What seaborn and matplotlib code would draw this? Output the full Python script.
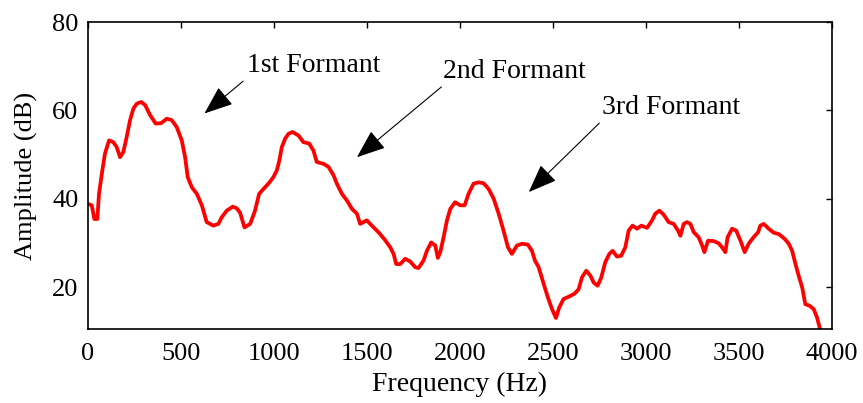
import numpy as np
import pandas as pd
import matplotlib
matplotlib.use("Agg")
import matplotlib.pyplot as plt
import seaborn as sns

# Smoothed spectrum envelope: frequency (Hz) and amplitude (dB)
freq_hz = [2, 20, 34, 50, 59, 74, 91, 113, 136, 154, 172, 190, 208, 226, 244, 262,
           285, 307, 334, 364, 393, 423, 450, 477, 504, 522, 536, 558, 585, 612,
           638, 674, 701, 719, 746, 778, 800, 818, 841, 872, 898, 920, 943, 970,
           997, 1015, 1029, 1042, 1060, 1078, 1099, 1132, 1158, 1189, 1212, 1230,
           1266, 1293, 1320, 1338, 1365, 1392, 1419, 1446, 1463, 1499, 1526, 1562,
           1596, 1625, 1643, 1657, 1679, 1705, 1732, 1759, 1777, 1804, 1822, 1845,
           1867, 1881, 1894, 1912, 1930, 1948, 1974, 2001, 2025, 2046, 2073, 2100,
           2127, 2154, 2181, 2208, 2234, 2258, 2279, 2306, 2333, 2365, 2387, 2403,
           2423, 2450, 2473, 2495, 2516, 2534, 2557, 2584, 2616, 2638, 2656, 2679,
           2701, 2719, 2740, 2760, 2781, 2803, 2821, 2844, 2867, 2889, 2907, 2928,
           2952, 2975, 3006, 3033, 3050, 3072, 3095, 3122, 3149, 3172, 3185, 3203,
           3221, 3239, 3257, 3283, 3302, 3314, 3334, 3364, 3391, 3409, 3427, 3439,
           3463, 3485, 3508, 3531, 3552, 3579, 3603, 3615, 3633, 3660, 3687, 3714,
           3746, 3768, 3786, 3804, 3821, 3840, 3857, 3879, 3902, 3920, 3934, 3945]
amp_db = [38.8, 38.5, 35.4, 35.4, 41.1, 45.6, 50.2, 53.2, 52.8, 51.7, 49.4, 50.6,
          54.0, 57.8, 60.4, 61.5, 61.9, 61.2, 58.9, 57.0, 57.1, 58.1, 57.8, 56.2,
          53.2, 49.4, 44.9, 42.6, 41.1, 38.5, 34.7, 33.9, 34.3, 35.8, 37.3, 38.2,
          37.8, 36.8, 33.5, 34.3, 37.3, 41.1, 42.2, 43.4, 44.9, 46.4, 48.7, 51.7,
          53.6, 54.7, 55.1, 54.3, 52.8, 52.5, 50.9, 48.3, 47.9, 47.2, 45.3, 43.4,
          41.1, 39.6, 37.7, 36.6, 34.3, 35.1, 33.9, 32.4, 30.7, 29.0, 27.5, 25.2,
          25.2, 26.4, 25.8, 24.5, 24.3, 26.0, 28.2, 30.1, 29.4, 26.6, 27.9, 31.3,
          35.1, 37.7, 39.2, 38.5, 38.5, 41.1, 43.4, 43.7, 43.5, 42.2, 40.0, 36.6,
          32.8, 29.0, 27.5, 29.4, 29.8, 29.6, 28.2, 26.0, 24.5, 20.7, 17.6, 15.0,
          13.0, 15.4, 17.3, 17.8, 18.5, 19.5, 22.2, 23.7, 22.6, 21.0, 20.3, 22.2,
          25.6, 27.5, 28.2, 26.9, 27.1, 29.0, 32.8, 33.9, 33.2, 33.9, 33.4, 35.1,
          36.6, 37.3, 36.4, 34.7, 34.3, 32.8, 31.6, 34.3, 34.7, 34.3, 32.4, 31.3,
          29.4, 27.9, 30.5, 30.4, 29.9, 29.0, 27.9, 31.3, 33.2, 32.8, 30.5, 27.9,
          29.8, 31.3, 32.4, 33.9, 34.3, 33.2, 32.3, 32.0, 30.9, 29.8, 28.2, 25.2,
          22.6, 19.9, 16.1, 15.8, 15.0, 13.1, 10.8, 9.0]

x_ticks = [0, 500, 1000, 1500, 2000, 2500, 3000, 3500, 4000]
y_ticks = [20, 40, 60, 80]

formant_labels = ["1st Formant", "2nd Formant", "3rd Formant"]
label_pos = [(854, 70.1), (1911, 68.7), (2761, 60.7)]
arrow_tail = [(834, 66.6), (1900, 65.3), (2749, 57.1)]
arrow_head = [(626, 59.3), (1446, 49.4), (2370, 41.5)]

sns.set_style("white")
plt.rcParams["font.family"] = ["Liberation Serif", "DejaVu Serif"]
plt.rcParams["text.color"] = "black"
plt.rcParams["axes.labelcolor"] = "black"

fig = plt.figure(figsize=(8.63, 4.03), dpi=100)
ax = fig.add_axes([0.102, 0.1836, 0.862, 0.7618])

df = pd.DataFrame({"Frequency (Hz)": freq_hz, "Amplitude (dB)": amp_db})
sns.lineplot(data=df, x="Frequency (Hz)", y="Amplitude (dB)", ax=ax,
             color="#ff0000", linewidth=2.7, sort=False)

ax.set_xlim(0, 4000)
ax.set_ylim(10.5, 80)
ax.set_xticks(x_ticks)
ax.set_yticks(y_ticks)
ax.tick_params(direction="in", length=4, width=1, top=True, right=True,
               labelsize=19, colors="black")
ax.tick_params(axis="x", pad=10)
ax.tick_params(axis="y", pad=7)
for s in ax.spines.values():
    s.set_visible(True)
    s.set_color("black")
    s.set_linewidth(1.2)
ax.set_xlabel("Frequency (Hz)", fontsize=20, labelpad=5, color="black")
ax.set_ylabel("Amplitude (dB)", fontsize=19, labelpad=10, color="black")

for txt, pos, tail, head in zip(formant_labels, label_pos, arrow_tail, arrow_head):
    ax.text(pos[0], pos[1], txt, fontsize=20, ha="left", va="center", color="black")
    ax.annotate("", xy=head, xytext=tail,
                arrowprops=dict(arrowstyle="-|>,head_length=0.9,head_width=0.35",
                                color="black", lw=0.8, shrinkA=0, shrinkB=0,
                                mutation_scale=20))

fig.savefig("out.png", dpi=100, facecolor="white")
